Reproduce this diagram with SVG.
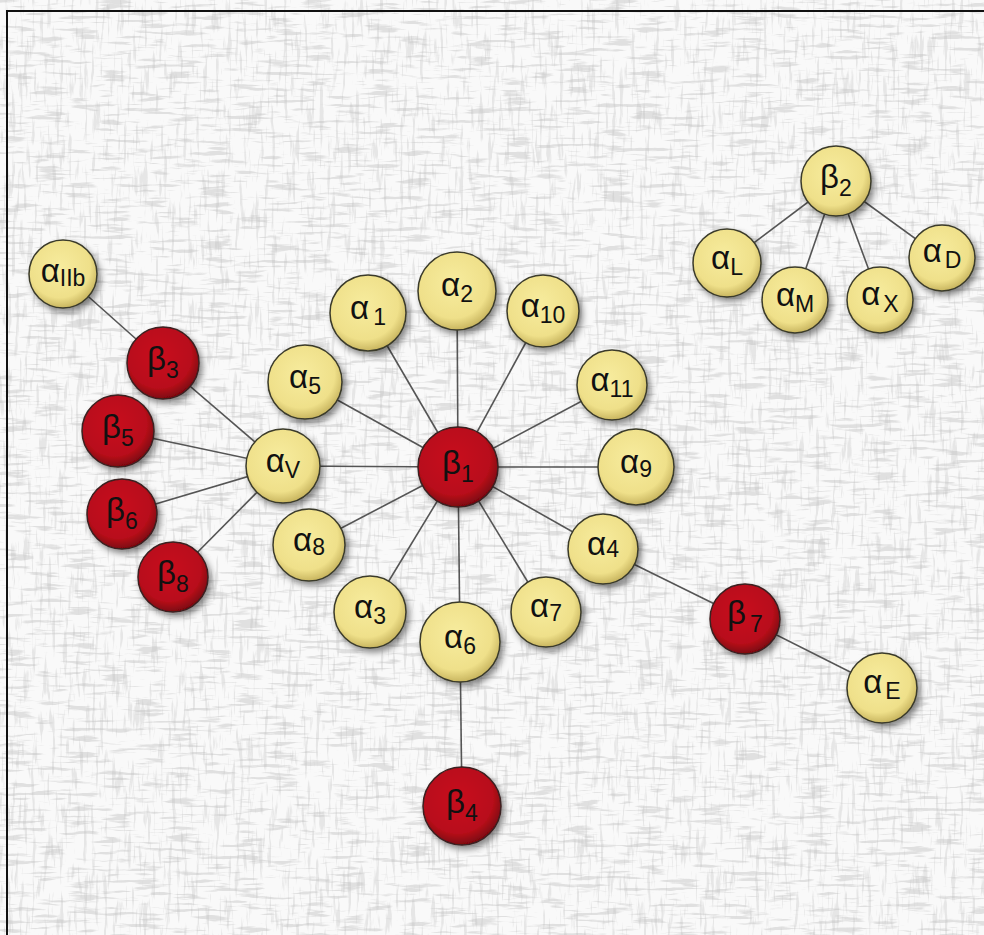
<svg xmlns="http://www.w3.org/2000/svg" width="984" height="935" viewBox="0 0 984 935">
<defs>
<style>
.y{fill:url(#gy);stroke:#3a3a2a;stroke-width:1.5;filter:url(#sh)}
.r{fill:url(#gr);stroke:#3a2020;stroke-width:1.5;filter:url(#sh)}
.t{font-family:"Liberation Sans",Arial,sans-serif;font-size:33px;fill:#111;text-anchor:middle}
.s{font-size:23px}
#links line{stroke:#555;stroke-width:1.6}
</style>
<radialGradient id="gy" cx="45%" cy="40%" r="60%">
<stop offset="0" stop-color="#f7ec9e"/>
<stop offset="0.75" stop-color="#efe08a"/>
<stop offset="1" stop-color="#c9b660"/>
</radialGradient>
<radialGradient id="gr" cx="45%" cy="40%" r="60%">
<stop offset="0" stop-color="#c8101e"/>
<stop offset="0.75" stop-color="#b80c1a"/>
<stop offset="1" stop-color="#7c0610"/>
</radialGradient>
<filter id="sh" x="-30%" y="-30%" width="170%" height="170%">
<feDropShadow dx="3" dy="4" stdDeviation="3" flood-color="#000" flood-opacity="0.45"/>
</filter>
<filter id="tex" x="0" y="0" width="100%" height="100%">
<feTurbulence type="fractalNoise" baseFrequency="0.03 0.25" numOctaves="3" seed="4" result="n"/>
<feColorMatrix in="n" type="matrix" values="0 0 0 0 0.5  0 0 0 0 0.5  0 0 0 0 0.5  7 0 0 0 -3.8" result="c"/>
<feComposite in="c" in2="SourceGraphic" operator="in"/>
</filter>
<filter id="tex2" x="0" y="0" width="100%" height="100%">
<feTurbulence type="fractalNoise" baseFrequency="0.25 0.03" numOctaves="3" seed="9" result="n"/>
<feColorMatrix in="n" type="matrix" values="0 0 0 0 0.5  0 0 0 0 0.5  0 0 0 0 0.5  7 0 0 0 -3.9" result="c"/>
<feComposite in="c" in2="SourceGraphic" operator="in"/>
</filter>
</defs>
<rect width="984" height="935" fill="#f9f9f9"/>
<rect width="984" height="935" fill="#fff" filter="url(#tex)" opacity="0.4"/>
<rect width="984" height="935" fill="#fff" filter="url(#tex2)" opacity="0.3"/>
<path d="M7 935 V11 H984" fill="none" stroke="#111" stroke-width="2"/>
<g id="links">
<line x1="63" y1="274" x2="163" y2="363"/>
<line x1="163" y1="363" x2="283" y2="466"/>
<line x1="118" y1="431" x2="283" y2="466"/>
<line x1="122" y1="514" x2="283" y2="466"/>
<line x1="173" y1="577" x2="283" y2="466"/>
<line x1="458" y1="467" x2="283" y2="466"/>
<line x1="458" y1="467" x2="305" y2="382"/>
<line x1="458" y1="467" x2="368" y2="313"/>
<line x1="458" y1="467" x2="457" y2="291"/>
<line x1="458" y1="467" x2="543" y2="311"/>
<line x1="458" y1="467" x2="612" y2="385"/>
<line x1="458" y1="467" x2="636" y2="467"/>
<line x1="458" y1="467" x2="603" y2="549"/>
<line x1="458" y1="467" x2="546" y2="612"/>
<line x1="458" y1="467" x2="460" y2="642"/>
<line x1="458" y1="467" x2="370" y2="612"/>
<line x1="458" y1="467" x2="309" y2="545"/>
<line x1="460" y1="642" x2="462" y2="806"/>
<line x1="603" y1="549" x2="745" y2="619"/>
<line x1="745" y1="619" x2="882" y2="688"/>
<line x1="836" y1="181" x2="727" y2="263"/>
<line x1="836" y1="181" x2="795" y2="300"/>
<line x1="836" y1="181" x2="880" y2="300"/>
<line x1="836" y1="181" x2="942" y2="258"/>
</g>
<g id="aIIb"><circle class="y" cx="63" cy="274" r="34"/><text class="t" x="63" y="282">α<tspan class="s" dy="4">IIb</tspan></text></g>
<g id="b3"><circle class="r" cx="163" cy="363" r="36"/><text class="t" x="163" y="370">β<tspan class="s" dy="8">3</tspan></text></g>
<g id="b5"><circle class="r" cx="118" cy="431" r="36"/><text class="t" x="118" y="438">β<tspan class="s" dy="8">5</tspan></text></g>
<g id="b6"><circle class="r" cx="122" cy="514" r="35"/><text class="t" x="122" y="521">β<tspan class="s" dy="8">6</tspan></text></g>
<g id="b8"><circle class="r" cx="173" cy="577" r="35"/><text class="t" x="173" y="584">β<tspan class="s" dy="8">8</tspan></text></g>
<g id="aV"><circle class="y" cx="283" cy="466" r="37"/><text class="t" x="283" y="472">α<tspan class="s" dy="6">V</tspan></text></g>
<g id="a5"><circle class="y" cx="305" cy="382" r="37"/><text class="t" x="305" y="388">α<tspan class="s" dy="6">5</tspan></text></g>
<g id="a1"><circle class="y" cx="368" cy="313" r="38"/><text class="t" x="368" y="319">α<tspan class="s" dx="4" dy="6">1</tspan></text></g>
<g id="a2"><circle class="y" cx="457" cy="291" r="39"/><text class="t" x="457" y="296">α<tspan class="s" dy="6">2</tspan></text></g>
<g id="a10"><circle class="y" cx="543" cy="311" r="36"/><text class="t" x="543" y="317">α<tspan class="s" dy="6">10</tspan></text></g>
<g id="a11"><circle class="y" cx="612" cy="385" r="35"/><text class="t" x="612" y="391">α<tspan class="s" dy="6">11</tspan></text></g>
<g id="a9"><circle class="y" cx="636" cy="467" r="38"/><text class="t" x="636" y="473">α<tspan class="s" dy="4">9</tspan></text></g>
<g id="a4"><circle class="y" cx="603" cy="549" r="35"/><text class="t" x="603" y="555">α<tspan class="s" dy="2">4</tspan></text></g>
<g id="a7"><circle class="y" cx="546" cy="612" r="35"/><text class="t" x="546" y="617">α<tspan class="s" dy="4">7</tspan></text></g>
<g id="a6"><circle class="y" cx="460" cy="642" r="40"/><text class="t" x="460" y="648">α<tspan class="s" dy="6">6</tspan></text></g>
<g id="a3"><circle class="y" cx="370" cy="612" r="36"/><text class="t" x="370" y="618">α<tspan class="s" dy="6">3</tspan></text></g>
<g id="a8"><circle class="y" cx="309" cy="545" r="36"/><text class="t" x="309" y="551">α<tspan class="s" dy="4">8</tspan></text></g>
<g id="b1"><circle class="r" cx="458" cy="467" r="40"/><text class="t" x="458" y="474">β<tspan class="s" dy="8">1</tspan></text></g>
<g id="b4"><circle class="r" cx="462" cy="806" r="39"/><text class="t" x="462" y="813">β<tspan class="s" dy="8">4</tspan></text></g>
<g id="b7"><circle class="r" cx="745" cy="619" r="35"/><text class="t" x="745" y="624">β<tspan class="s" dx="4" dy="8">7</tspan></text></g>
<g id="aE"><circle class="y" cx="882" cy="688" r="35"/><text class="t" x="882" y="693">α<tspan class="s" dx="3" dy="6">E</tspan></text></g>
<g id="b2"><circle class="y" cx="836" cy="181" r="35"/><text class="t" x="836" y="188">β<tspan class="s" dy="8">2</tspan></text></g>
<g id="aL"><circle class="y" cx="727" cy="263" r="34"/><text class="t" x="727" y="269">α<tspan class="s" dy="6">L</tspan></text></g>
<g id="aM"><circle class="y" cx="795" cy="300" r="33"/><text class="t" x="795" y="306">α<tspan class="s" dy="6">M</tspan></text></g>
<g id="aX"><circle class="y" cx="880" cy="300" r="33"/><text class="t" x="880" y="305">α<tspan class="s" dx="3" dy="7">X</tspan></text></g>
<g id="aD"><circle class="y" cx="942" cy="258" r="33"/><text class="t" x="942" y="262">α<tspan class="s" dx="3" dy="6">D</tspan></text></g>
</svg>
